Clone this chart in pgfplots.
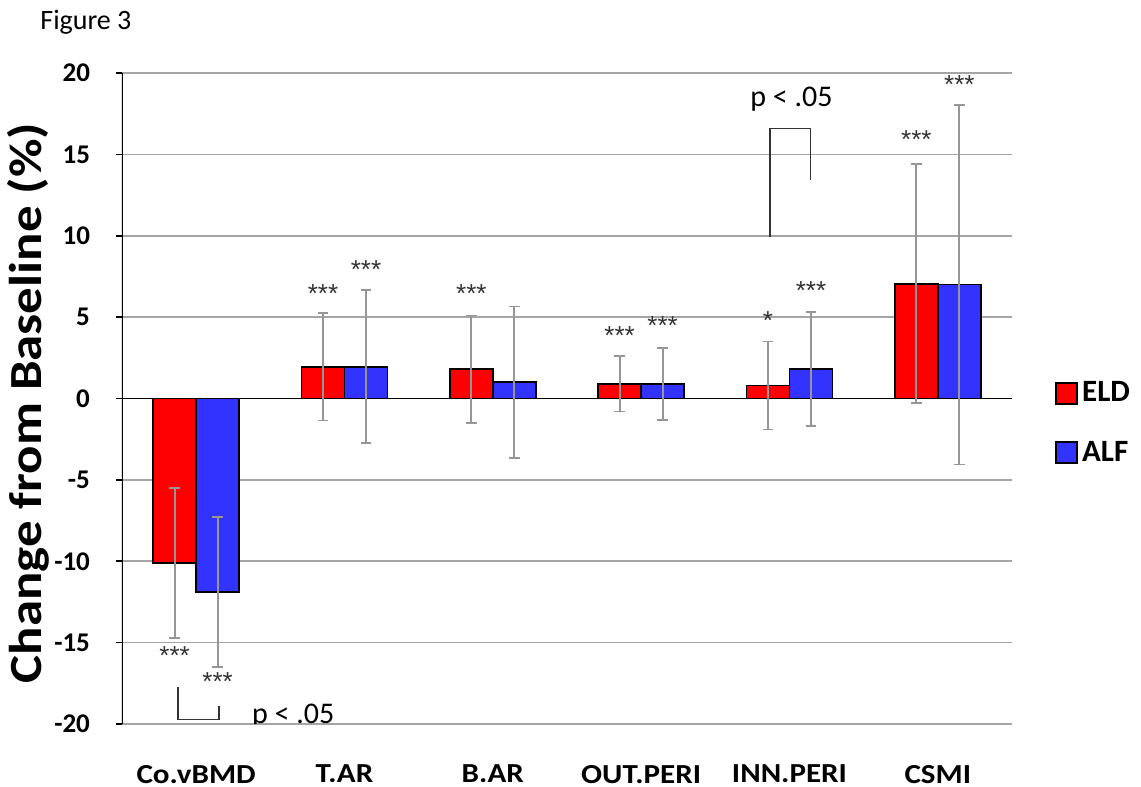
\documentclass[border=0pt]{standalone}
\usepackage{fontspec}
\setmainfont{Carlito}
\newfontfamily\labfont[FakeStretch=1.13]{Carlito}
\newfontfamily\ylabfont[FakeStretch=1.15]{Carlito}
\newfontfamily\starfont{Liberation Sans}
\usepackage{pgfplots}
\usepackage{pgfplotstable}
\pgfplotsset{compat=1.18}
\definecolor{barred}{RGB}{255,0,0}
\definecolor{barblue}{RGB}{51,51,255}
\definecolor{errgray}{RGB}{150,150,150}
\definecolor{gridgray}{RGB}{165,165,165}

\pgfplotstableread{
x y e
0 -10.1 4.6
1 1.95 3.3
2 1.8 3.3
3 0.9 1.7
4 0.8 2.7
5 7.05 7.35
}\eld
\pgfplotstableread{
x y e
0 -11.9 4.6
1 1.95 4.7
2 1.0 4.65
3 0.9 2.2
4 1.8 3.5
5 7.0 11.05
}\alf

\begin{document}
\begin{tikzpicture}
\useasboundingbox (0,0) rectangle (570.5pt,393.5pt);
\begin{axis}[
  at={(61pt,31.5pt)}, anchor=south west,
  scale only axis, width=445pt, height=325.5pt,
  xmin=-0.5, xmax=5.5, ymin=-20, ymax=20,
  ybar=0pt, bar width=0.29,
  axis line style={draw=none},
  ytick={-20,-15,...,20},
  yticklabels={-20,-15,-10,-5,0,5,10,15,20},
  xtick={0,1,2,3,4,5},
  xticklabels={Co.vBMD,T.AR,B.AR,OUT.PERI,INN.PERI,CSMI},
  ytick pos=left,
  tick align=outside,
  major tick length=3pt,
  ytick style={black, line width=0.8pt},
  xtick style={draw=none},
  ymajorgrids,
  grid style={gridgray, line width=0.8pt},
  extra y ticks={0},
  extra y tick labels={},
  extra y tick style={grid style={black, line width=0.8pt}},
  yticklabel style={font=\fontsize{13.5}{16}\selectfont\bfseries, anchor=east, xshift=-9.5pt},
  xticklabel style={font=\labfont\fontsize{13.75}{16}\selectfont\bfseries, anchor=north, yshift=-14pt},
  ylabel={Change from Baseline (\%)},
  ylabel style={font=\ylabfont\fontsize{23}{26}\selectfont\bfseries, at={(axis description cs:-0.1056,0.493)}, anchor=center},
  legend style={at={(1.0483,0.4624)}, anchor=west, draw=none, fill=none,
    font=\fontsize{15.5}{18}\selectfont\bfseries, row sep=14pt, inner sep=0pt},
  legend cell align=left,
]
\addplot[fill=barred, draw=black, line width=0.9pt,
  legend image code/.code={\draw[fill=barred, draw=black, line width=0.9pt] (0pt,-5.25pt) rectangle (10.5pt,5.25pt);},
  error bars/.cd, y dir=both, y explicit,
  error bar style={errgray, line width=0.9pt},
  error mark options={errgray, line width=0.9pt, mark size=2.7pt, rotate=90}]
  table[x=x, y=y, y error=e] {\eld};
\addlegendentry{ELD}
\addplot[fill=barblue, draw=black, line width=0.9pt,
  legend image code/.code={\draw[fill=barblue, draw=black, line width=0.9pt] (0pt,-5.25pt) rectangle (10.5pt,5.25pt);},
  error bars/.cd, y dir=both, y explicit,
  error bar style={errgray, line width=0.9pt},
  error mark options={errgray, line width=0.9pt, mark size=2.7pt, rotate=90}]
  table[x=x, y=y, y error=e] {\alf};
\addlegendentry{ALF}

% significance stars
\begin{scope}[every node/.style={font=\starfont\fontsize{13}{15}\selectfont, inner sep=0pt, text=black!80}]
\node at (axis cs:-0.145,-15.8) {***};
\node at (axis cs:0.145,-17.4) {***};
\node at (axis cs:0.855,6.45) {***};
\node at (axis cs:1.145,7.9) {***};
\node at (axis cs:1.855,6.45) {***};
\node at (axis cs:2.855,3.85) {***};
\node at (axis cs:3.145,4.5) {***};
\node at (axis cs:3.855,4.8) {*};
\node at (axis cs:4.145,6.65) {***};
\node at (axis cs:4.855,15.9) {***};
\node at (axis cs:5.145,19.3) {***};
\end{scope}

% brackets
\draw[black!80, line width=0.6pt] (axis cs:-0.1225,-17.7) |- (axis cs:0.154,-19.7) -- (axis cs:0.154,-18.9);
\node[anchor=base west, inner sep=0pt, font=\fontsize{15}{18}\selectfont] at (axis cs:0.374,-19.96) {p < .05};
\draw[black!80, line width=0.6pt] (axis cs:3.869,9.9) |- (axis cs:4.142,16.6) -- (axis cs:4.142,13.45);
\node[anchor=base west, inner sep=0pt, font=\fontsize{15}{18}\selectfont] at (axis cs:3.734,17.93) {p < .05};

% y axis line
\draw[black, line width=0.8pt] (axis description cs:0,0) -- (axis description cs:0,1);
\end{axis}
\node[anchor=base west, inner sep=0pt, font=\fontsize{14}{16}\selectfont] at (20pt,378.75pt) {Figure 3};
\end{tikzpicture}
\end{document}
